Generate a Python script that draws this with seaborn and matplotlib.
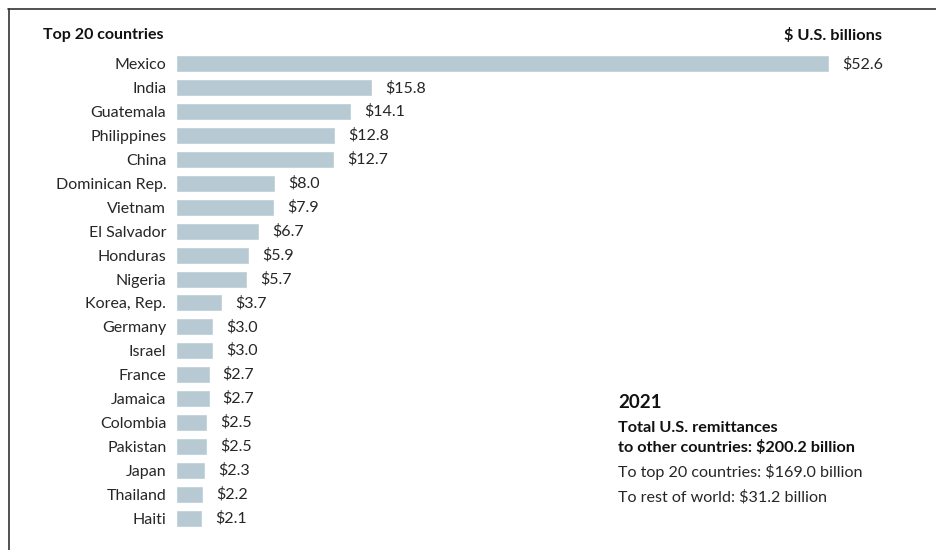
import matplotlib
matplotlib.use("Agg")
import matplotlib.pyplot as plt
import seaborn as sns
import pandas as pd
from matplotlib.lines import Line2D

countries = ["Mexico", "India", "Guatemala", "Philippines", "China", "Dominican Rep.",
             "Vietnam", "El Salvador", "Honduras", "Nigeria", "Korea, Rep.", "Germany",
             "Israel", "France", "Jamaica", "Colombia", "Pakistan", "Japan", "Thailand", "Haiti"]
values = [52.6, 15.8, 14.1, 12.8, 12.7, 8.0, 7.9, 6.7, 5.9, 5.7, 3.7, 3.0,
          3.0, 2.7, 2.7, 2.5, 2.5, 2.3, 2.2, 2.1]

sns.set_theme(style="white")
plt.rcParams['font.family'] = ['Lato', 'DejaVu Sans']

df = pd.DataFrame({"country": countries, "value": values})

fig = plt.figure(figsize=(9.36, 5.5), dpi=100)
ax = fig.add_axes([176/936, 1-530/550, (921-176)/936, (530-52)/550])
sns.barplot(data=df, y="country", x="value", orient="h", color="#b7c9d3",
            saturation=1, width=0.71, ax=ax)
ax.set_xlim(0, 60)
ax.set_ylim(19.5, -0.5)
ax.set_xlabel("")
ax.set_ylabel("")
ax.set_xticks([])
for s in ax.spines.values():
    s.set_visible(False)
ax.tick_params(axis="y", length=0, pad=7, labelsize=11.5, labelcolor="#262626")

for i, v in enumerate(values):
    ax.annotate(f"${v:.1f}", xy=(v, i), xytext=(9.5, 0), textcoords="offset points",
                va="center", ha="left", fontsize=11.5, color="#262626")

fig.text(43/936, 1-35/550, "Top 20 countries", ha="left", va="center",
         fontsize=11.5, fontweight="bold", color="#111111")
fig.text(882/936, 1-35/550, "$ U.S. billions", ha="right", va="center",
         fontsize=11.8, fontweight="bold", color="#111111")

fig.text(618/936, 1-403/550, "2021", ha="left", va="center",
         fontsize=13.5, fontweight="bold", color="#111111")
fig.text(618/936, 1-428/550, "Total U.S. remittances", ha="left", va="center",
         fontsize=11.7, fontweight="bold", color="#111111")
fig.text(618/936, 1-447/550, "to other countries: $200.2 billion", ha="left", va="center",
         fontsize=11.7, fontweight="bold", color="#111111")
fig.text(618/936, 1-472/550, "To top 20 countries: $169.0 billion", ha="left", va="center",
         fontsize=11.6, color="#262626")
fig.text(618/936, 1-497/550, "To rest of world: $31.2 billion", ha="left", va="center",
         fontsize=11.6, color="#262626")

fig.add_artist(Line2D([8/936, 1.0], [1-8.5/550, 1-8.5/550], transform=fig.transFigure,
                      color="#333333", lw=1.2))
fig.add_artist(Line2D([8.5/936, 8.5/936], [0, 1-8.5/550], transform=fig.transFigure,
                      color="#333333", lw=1.2))

fig.savefig("out.png", dpi=100)
